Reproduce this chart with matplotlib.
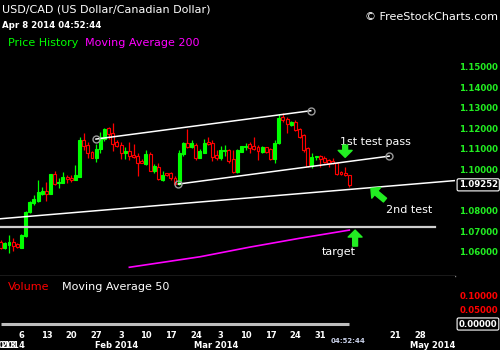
"""USD/CAD daily candles with channel lines (FreeStockCharts style)."""

import matplotlib
matplotlib.use("Agg")
import matplotlib.pyplot as plt
from matplotlib.transforms import blended_transform_factory

# ---- data ----
opens = [1.0649, 1.0617, 1.0633, 1.0645, 1.0638, 1.0620, 1.0678, 1.0795, 1.0836, 1.0847,
         1.0881, 1.0897, 1.0881, 1.0978, 1.0933, 1.0936, 1.0965, 1.0960, 1.0949, 1.0965,
         1.1144, 1.1119, 1.1087, 1.1058, 1.1098, 1.1147, 1.1200, 1.1176, 1.1136, 1.1119,
         1.1082, 1.1090, 1.1071, 1.1066, 1.1043, 1.1027, 1.1074, 1.0994, 1.1011, 1.0949,
         1.0981, 1.0981, 1.0957, 1.0930, 1.1077, 1.1130, 1.1108, 1.1119, 1.1058, 1.1082,
         1.1136, 1.1127, 1.1071, 1.1054, 1.1090, 1.1095, 1.1050, 1.0990, 1.1087, 1.1108,
         1.1124, 1.1114, 1.1108, 1.1087, 1.1108, 1.1098, 1.1050, 1.1127, 1.1254, 1.1244,
         1.1217, 1.1230, 1.1196, 1.1168, 1.1103, 1.1017, 1.1059, 1.1066, 1.1054, 1.1046,
         1.1043, 1.1033, 1.0990, 1.0981, 1.0973]
highs = [1.0657, 1.0649, 1.0682, 1.0665, 1.0644, 1.0684, 1.0800, 1.0846, 1.0876, 1.0949,
         1.0917, 1.0941, 1.0980, 1.0993, 1.0957, 1.0990, 1.0973, 1.0973, 1.1022, 1.1160,
         1.1179, 1.1135, 1.1090, 1.1123, 1.1184, 1.1200, 1.1205, 1.1225, 1.1144, 1.1136,
         1.1111, 1.1136, 1.1124, 1.1079, 1.1050, 1.1095, 1.1087, 1.1027, 1.1030, 1.0993,
         1.0985, 1.0990, 1.0969, 1.1095, 1.1132, 1.1195, 1.1144, 1.1131, 1.1098, 1.1147,
         1.1160, 1.1144, 1.1095, 1.1114, 1.1119, 1.1098, 1.1095, 1.1098, 1.1116, 1.1131,
         1.1136, 1.1160, 1.1119, 1.1114, 1.1111, 1.1103, 1.1144, 1.1270, 1.1277, 1.1257,
         1.1238, 1.1241, 1.1200, 1.1173, 1.1111, 1.1082, 1.1066, 1.1071, 1.1066, 1.1051,
         1.1054, 1.1038, 1.0991, 1.1014, 1.0973]
lows = [1.0612, 1.0612, 1.0592, 1.0605, 1.0617, 1.0617, 1.0673, 1.0790, 1.0827, 1.0844,
        1.0876, 1.0847, 1.0879, 1.0925, 1.0912, 1.0933, 1.0936, 1.0941, 1.0947, 1.0962,
        1.1095, 1.1054, 1.1055, 1.1038, 1.1082, 1.1140, 1.1147, 1.1090, 1.1111, 1.1050,
        1.1051, 1.1046, 1.1055, 1.0970, 1.1030, 1.1022, 1.0993, 1.0981, 1.0949, 1.0946,
        1.0970, 1.0949, 1.0925, 1.0925, 1.1068, 1.1103, 1.1103, 1.1046, 1.1054, 1.1079,
        1.1119, 1.1043, 1.1046, 1.1046, 1.1066, 1.1033, 1.0981, 1.0985, 1.1085, 1.1095,
        1.1079, 1.1095, 1.1046, 1.1079, 1.1082, 1.1046, 1.1030, 1.1124, 1.1233, 1.1179,
        1.1212, 1.1189, 1.1152, 1.1087, 1.1014, 1.1006, 1.1046, 1.1014, 1.1033, 1.1011,
        1.1027, 1.0973, 1.0973, 1.0969, 1.0913]
closes = [1.0617, 1.0641, 1.0645, 1.0628, 1.0622, 1.0682, 1.0795, 1.0844, 1.0855, 1.0892,
          1.0897, 1.0881, 1.0978, 1.0930, 1.0941, 1.0962, 1.0952, 1.0949, 1.0973, 1.1144,
          1.1115, 1.1082, 1.1058, 1.1098, 1.1160, 1.1196, 1.1173, 1.1124, 1.1115, 1.1079,
          1.1092, 1.1066, 1.1063, 1.1030, 1.1033, 1.1076, 1.0994, 1.1017, 1.0952, 1.0973,
          1.0973, 1.0957, 1.0930, 1.1079, 1.1127, 1.1108, 1.1127, 1.1054, 1.1092, 1.1127,
          1.1124, 1.1063, 1.1054, 1.1095, 1.1095, 1.1043, 1.0990, 1.1095, 1.1114, 1.1114,
          1.1103, 1.1098, 1.1092, 1.1108, 1.1087, 1.1050, 1.1131, 1.1249, 1.1241, 1.1222,
          1.1233, 1.1192, 1.1160, 1.1095, 1.1017, 1.1063, 1.1066, 1.1050, 1.1038, 1.1030,
          1.1030, 1.0978, 1.0978, 1.0973, 1.09252]
volume = [0.0] * len(closes)  # forex: no volume reported

# moving average 200 (only the visible stretch)
ma200_idx = [31, 48, 60, 72, 84]
ma200_val = [1.0524, 1.0575, 1.0622, 1.0665, 1.0705]

# hand drawn lines: (start index, start price, end index, end price)
upper_channel = (22.96, 1.1148, 74.7, 1.1286)
lower_channel = (42.8, 1.0929, 93.6, 1.1065)
support_line = (-0.17, 1.0760, 109.47, 1.0946)
target_level = 1.0722

price_ticks = [1.06, 1.07, 1.08, 1.10, 1.11, 1.12, 1.13, 1.14, 1.15]
vol_ticks = [0.05, 0.10]

# x axis: trading-day index, 6 sessions per week
day_ticks = [5, 11, 17, 23, 29, 35, 41, 47, 53, 59, 65, 71, 77, 95, 101]
day_labels = ["6", "13", "20", "27", "3", "10", "17", "24", "3", "10", "17", "24", "31", "21", "28"]
month_ticks = [1, 28, 52, 104]
month_labels = ["Jan 2014", "Feb 2014", "Mar 2014", "May 2014"]

GREEN = "#00ff00"
RED = "#ff0000"
XLIM = (-0.17, 109.47)
TICK_FS = 6.2

fig = plt.figure(figsize=(5, 3.5), dpi=100, facecolor="black")
ax = fig.add_axes([0, 0.2123, 0.91, 0.7877], facecolor="black")
vax = fig.add_axes([0, 0.0514, 0.91, 0.1609], facecolor="black")

# ---- candles ----
idx = list(range(len(closes)))
up = [c >= o for o, c in zip(opens, closes)]
wick_colors = [GREEN if u else RED for u in up]
ax.vlines(idx, lows, highs, colors=wick_colors, linewidth=0.9, zorder=2)
bottoms = [min(o, c) for o, c in zip(opens, closes)]
heights = [max(abs(c - o), 0.0003) for o, c in zip(opens, closes)]
faces = [GREEN if u else "black" for u in up]
ax.bar(idx, heights, width=0.72, bottom=bottoms, color=faces,
       edgecolor=wick_colors, linewidth=0.8, zorder=3)

ax.plot(ma200_idx, ma200_val, color="#ff00ff", lw=1.2, zorder=2)

# ---- drawn lines ----
for x0, y0, x1, y1 in (upper_channel, lower_channel):
    ax.plot([x0, x1], [y0, y1], color="white", lw=1.1, zorder=4)
    ax.plot([x0, x1], [y0, y1], ls="none", marker="o", ms=5, mfc="none",
            mec="#9a9a9a", mew=1.0, zorder=5)
x0, y0, x1, y1 = support_line
ax.plot([x0, x1], [y0, y1], color="white", lw=1.1, zorder=4)
ax.plot([XLIM[0], 104.7], [target_level, target_level], color="#cfcfcf", lw=1.6, zorder=4)

# ---- annotations ----
arrow = dict(arrowstyle="simple,head_width=1.0,head_length=0.5,tail_width=0.35",
             color="#22ee22", shrinkA=0, shrinkB=0, mutation_scale=10)
ax.annotate("", xy=(83.0, 1.1059), xytext=(83.0, 1.1119), arrowprops=arrow, zorder=6)
ax.annotate("", xy=(89.2, 1.0908), xytext=(92.6, 1.0851), arrowprops=arrow, zorder=6)
ax.annotate("", xy=(85.4, 1.0705), xytext=(85.4, 1.0627), arrowprops=arrow, zorder=6)
ax.text(81.8, 1.1132, "1st test pass", color="white", fontsize=8, va="center", ha="left")
ax.text(92.8, 1.0803, "2nd test", color="white", fontsize=8, va="center", ha="left")
ax.text(77.4, 1.0597, "target", color="white", fontsize=8, va="center", ha="left")

# ---- price axis ----
ax.set_xlim(*XLIM)
ax.set_ylim(1.0483, 1.1825)
ax.set_xticks([])
ax.yaxis.tick_right()
ax.set_yticks(price_ticks)
ax.set_yticklabels([f"{t:.5f}" for t in price_ticks], fontweight="bold")
ax.tick_params(axis="y", length=0, pad=3, labelsize=TICK_FS, labelcolor="#22ee22")
for side in ("top", "left", "right"):
    ax.spines[side].set_visible(False)
ax.spines["bottom"].set_color("#808080")
ax.spines["bottom"].set_linewidth(1.0)
last = blended_transform_factory(ax.transAxes, ax.transData)
ax.text(1.008, closes[-1], f"{closes[-1]:.5f}", transform=last, color="white",
        fontsize=TICK_FS, fontweight="bold", va="center", ha="left", clip_on=False,
        bbox=dict(boxstyle="round,pad=0.18", fc="black", ec="white", lw=0.8))

# ---- volume panel ----
vax.plot(idx, volume, color="#bdbdbd", lw=2.2, solid_capstyle="butt")
vax.set_xlim(*XLIM)
vax.set_ylim(-0.0286, 0.1725)
vax.set_xticks([])
vax.yaxis.tick_right()
vax.set_yticks(vol_ticks)
vax.set_yticklabels([f"{t:.5f}" for t in vol_ticks], fontweight="bold")
vax.tick_params(axis="y", length=0, pad=3, labelsize=TICK_FS, labelcolor=RED)
for side in vax.spines:
    vax.spines[side].set_visible(False)
vtr = blended_transform_factory(vax.transAxes, vax.transData)
vax.text(1.008, 0.0, "0.00000", transform=vtr, color="white", fontsize=TICK_FS,
         fontweight="bold", va="center", ha="left", clip_on=False,
         bbox=dict(boxstyle="round,pad=0.18", fc="black", ec="white", lw=0.8))

# ---- date labels ----
xt = blended_transform_factory(vax.transData, fig.transFigure)
for pos, lab in zip(day_ticks, day_labels):
    fig.text(pos, 1 - 336 / 350, lab, transform=xt, color="white", fontsize=6,
             fontweight="bold", ha="center", va="center")
for pos, lab in zip(month_ticks, month_labels):
    fig.text(pos, 1 - 345.5 / 350, lab, transform=xt, color="white", fontsize=6,
             fontweight="bold", ha="center", va="center")
fig.text(3.7, 1 - 345.5 / 350, "Dec 2013", transform=xt, color="white", fontsize=6,
         fontweight="bold", ha="right", va="center")
fig.text(83.7, 1 - 340.7 / 350, "04:52:44", transform=xt, color="#c8d0e8", fontsize=5,
         fontweight="bold", ha="center", va="center")

# ---- header text ----
fig.text(2 / 500, 1 - 10 / 350, "USD/CAD (US Dollar/Canadian Dollar)", color="white",
         fontsize=8, va="center", ha="left")
fig.text(2 / 500, 1 - 25 / 350, "Apr 8 2014 04:52:44", color="white", fontsize=6.2,
         fontweight="bold", va="center", ha="left")
fig.text(8 / 500, 1 - 43.3 / 350, "Price History", color=GREEN, fontsize=8,
         va="center", ha="left")
fig.text(85 / 500, 1 - 43.3 / 350, "Moving Average 200", color="#ff00ff", fontsize=8,
         va="center", ha="left")
fig.text(498 / 500, 1 - 16.7 / 350, "\u00a9 FreeStockCharts.com", color="white",
         fontsize=8, va="center", ha="right")
fig.text(8 / 500, 1 - 287 / 350, "Volume", color=RED, fontsize=8, va="center", ha="left")
fig.text(62 / 500, 1 - 287 / 350, "Moving Average 50", color="white", fontsize=8,
         va="center", ha="left")

fig.savefig("out.png", dpi=100, facecolor="black")
plt.close(fig)
